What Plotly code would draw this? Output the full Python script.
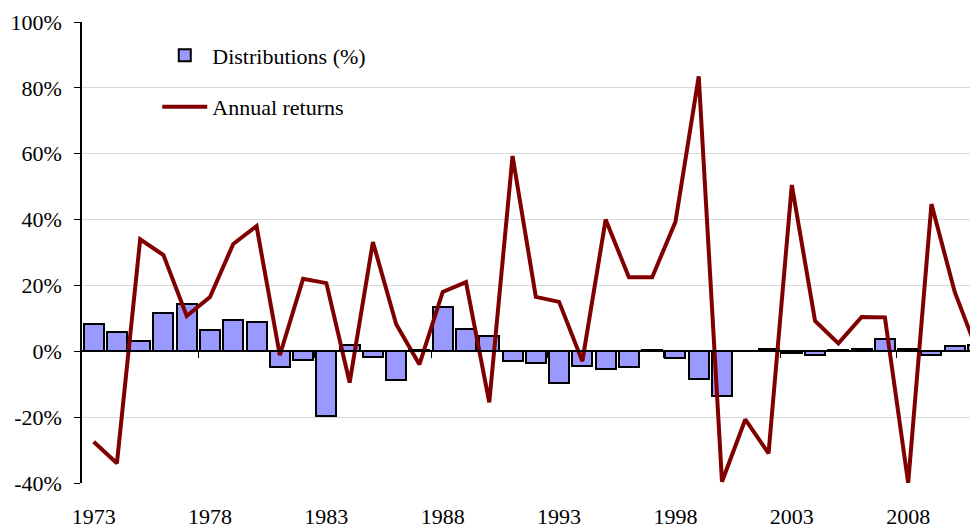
import plotly.graph_objects as go

# Data
years = list(range(1973, 2012))

distributions = [
    8.2, 6.0, 3.0, 11.5, 14.3, 6.4, 9.5, 8.8, -4.9, -2.5,
    -19.8, 1.8, -1.8, -8.8, 0.5, 13.5, 6.7, 4.6, -3.0, -3.6,
    -9.5, -4.5, -5.5, -4.8, 0.3, -1.9, -8.3, -13.7, 0.2, 0.8,
    -0.5, -1.2, 0.3, 0.6, 3.7, 0.6, -1.1, 1.5, 2.0,
]

annual_returns = [
    -27.5, -34.0, 34.0, 29.2, 10.7, 16.5, 32.6, 38.0, -1.2, 22.0,
    20.7, -9.5, 33.2, 8.2, -4.0, 18.0, 21.0, -15.5, 59.3, 16.5,
    15.0, -3.0, 40.0, 22.5, 22.5, 39.3, 83.5, -39.6, -20.7, -31.0,
    50.5, 9.2, 2.4, 10.4, 10.3, -40.0, 44.7, 18.0, -0.5,
]

label_years = [1973, 1978, 1983, 1988, 1993, 1998, 2003, 2008]
tick_mark_years = [y - 0.5 for y in label_years[1:]]

y_ticks = [-40, -20, 0, 20, 40, 60, 80, 100]
y_labels = [f"{v}%" for v in y_ticks]

FONT = "serif"
BAR_FILL = "#9999FF"
LINE_COLOR = "#800000"
X_RANGE = [1972.5, 2011.0]

fig = go.Figure()

fig.add_trace(go.Bar(
    x=years,
    y=distributions,
    name="Distributions (%)",
    width=0.86,
    marker=dict(color=BAR_FILL, line=dict(color="black", width=2)),
    legendgroup="a",
    xaxis="x",
    yaxis="y",
))

fig.add_trace(go.Scatter(
    x=years,
    y=annual_returns,
    name="Annual returns",
    mode="lines",
    line=dict(color=LINE_COLOR, width=4),
    legendgroup="b",
    xaxis="x2",
    yaxis="y",
))

# the page body has an 8px margin, so the figure is sized to fit the window
fig.update_layout(
    width=970,
    height=521,
    paper_bgcolor="white",
    plot_bgcolor="white",
    font=dict(family=FONT, size=22, color="black"),
    margin=dict(l=74, r=0, t=14, b=46, autoexpand=False),
    bargap=0,
    showlegend=True,
    legend=dict(
        x=0.084, y=0.973, xanchor="left", yanchor="top",
        bgcolor="rgba(0,0,0,0)",
        itemwidth=45,
        tracegroupgap=20,
        traceorder="grouped",
        font=dict(family=FONT, size=22),
    ),
    # base axis: the zero line with tick marks between categories
    xaxis=dict(
        range=X_RANGE,
        anchor="free",
        position=40 / 140,
        showline=True, linecolor="black", linewidth=1.5,
        ticks="outside", ticklen=6, tickcolor="black", tickwidth=1,
        tickvals=tick_mark_years,
        showticklabels=False,
        showgrid=False, zeroline=False,
        automargin=False,
    ),
    # overlay axis: year labels at the bottom
    xaxis2=dict(
        range=X_RANGE,
        overlaying="x",
        anchor="y",
        side="bottom",
        showline=False,
        ticks="",
        tickvals=label_years,
        ticktext=[str(y) for y in label_years],
        tickfont=dict(family=FONT, size=22),
        ticklabelstandoff=18,
        showgrid=False, zeroline=False,
        automargin=False,
    ),
    yaxis=dict(
        range=[-40, 100],
        tickvals=y_ticks,
        ticktext=y_labels,
        tickfont=dict(family=FONT, size=22),
        showline=True, linecolor="black", linewidth=1.5,
        ticks="outside", ticklen=6, tickcolor="black",
        ticklabelstandoff=8,
        showgrid=True, gridcolor="#d9d9d9", gridwidth=1,
        zeroline=False,
        automargin=False,
    ),
)

fig.write_html("out.html")
